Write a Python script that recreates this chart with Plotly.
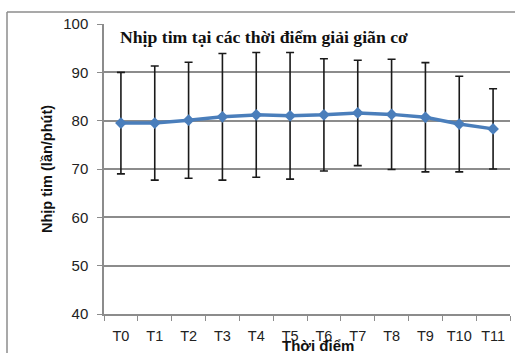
import plotly.graph_objects as go

# Heart rate (beats/min) at each time point: mean and standard deviation
time_points = ["T0", "T1", "T2", "T3", "T4", "T5", "T6", "T7", "T8", "T9", "T10", "T11"]
heart_rate_mean = [79.5, 79.5, 80.1, 80.8, 81.2, 81.0, 81.2, 81.6, 81.3, 80.7, 79.3, 78.3]
heart_rate_sd = [10.5, 11.8, 12.0, 13.1, 12.9, 13.1, 11.6, 10.9, 11.4, 11.3, 9.9, 8.3]

y_ticks = [40, 50, 60, 70, 80, 90, 100]

W, H = 515, 353
ML, MR, MT, MB = 104, 5, 24, 39
PW, PH = W - ML - MR, H - MT - MB


def px_x(p):
    return (p - ML) / PW


def px_y(p):
    return 1 - (p - MT) / PH


fig = go.Figure()
fig.add_trace(go.Scatter(
    x=time_points,
    y=heart_rate_mean,
    mode="lines+markers",
    line=dict(color="#4A7EBB", width=3.5),
    marker=dict(symbol="diamond", size=9, color="#4A7EBB"),
    error_y=dict(type="data", array=heart_rate_sd, visible=True,
                 color="#1A1A1A", thickness=1.6, width=4),
    showlegend=False,
))

sans = "Liberation Sans"
fig.update_layout(
    width=W, height=H,
    margin=dict(l=ML, r=MR, t=MT, b=MB),
    paper_bgcolor="white",
    plot_bgcolor="white",
    xaxis=dict(
        type="category",
        range=[-0.5, 11.5],
        tickson="boundaries",
        ticks="outside", ticklen=5, tickcolor="#8C8C8C",
        ticklabelstandoff=8,
        tickangle=0,
        automargin=False,
        showline=True, linecolor="#8C8C8C", linewidth=1.5,
        showgrid=False,
        tickfont=dict(family=sans, size=14.5, color="#222222"),
    ),
    yaxis=dict(
        range=[40, 100],
        tickvals=y_ticks,
        ticks="outside", ticklen=5, tickcolor="#8C8C8C",
        ticklabelstandoff=6,
        automargin=False,
        showline=True, linecolor="#8C8C8C", linewidth=1.5,
        showgrid=True, gridcolor="#8C8C8C", gridwidth=1.5,
        zeroline=False,
        tickfont=dict(family=sans, size=15, color="#222222"),
    ),
    shapes=[
        # chart frame (left and top edges)
        dict(type="line", xref="paper", yref="paper",
             x0=px_x(7), x1=px_x(7), y0=px_y(12), y1=px_y(H + 5),
             line=dict(color="#8C8C8C", width=1.5)),
        dict(type="line", xref="paper", yref="paper",
             x0=px_x(7), x1=px_x(W + 5), y0=px_y(12), y1=px_y(12),
             line=dict(color="#8C8C8C", width=1.5)),
    ],
    annotations=[
        dict(text="<b>Nhịp tim tại các thời điểm giải giãn cơ</b>",
             xref="paper", yref="paper", x=px_x(118), y=px_y(37),
             xanchor="left", yanchor="middle", showarrow=False,
             font=dict(family="Liberation Serif", size=17.7, color="#111111")),
        dict(text="<b>Nhịp tim (lần/phút)</b>",
             xref="paper", yref="paper", x=px_x(47), y=px_y(169),
             xanchor="center", yanchor="middle", textangle=-90, showarrow=False,
             font=dict(family=sans, size=14.5, color="#111111")),
        dict(text="<b>Thời điểm</b>",
             xref="paper", yref="paper", x=px_x(318), y=px_y(345),
             xanchor="center", yanchor="middle", showarrow=False,
             font=dict(family=sans, size=15, color="#111111")),
    ],
)

fig.write_html("out.html")
